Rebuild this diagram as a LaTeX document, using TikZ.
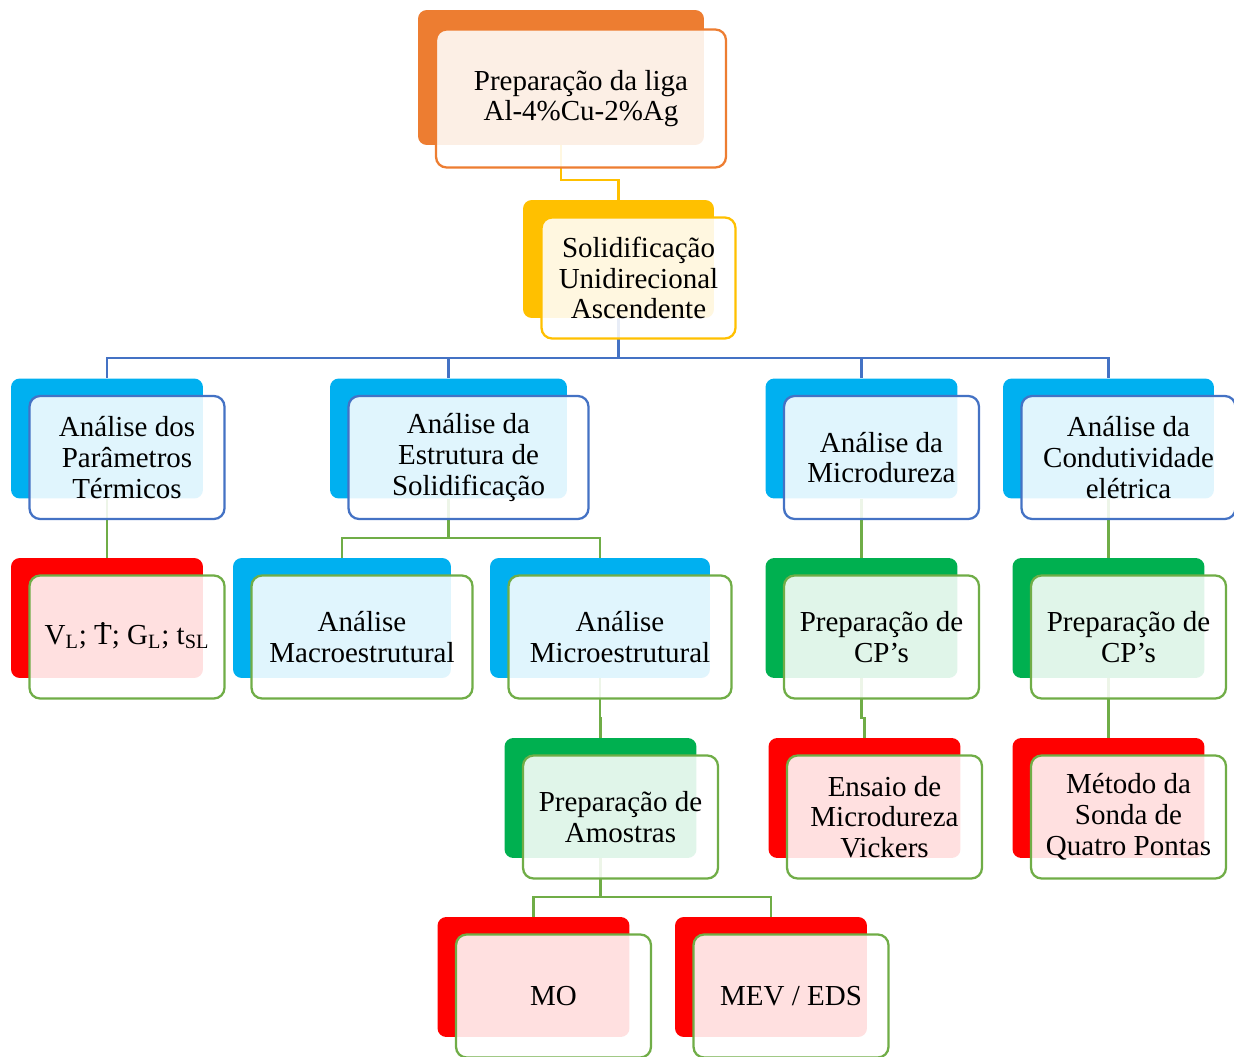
\documentclass[tikz,border=0pt]{standalone}
\usepackage{fontspec}
\setmainfont{Liberation Serif}
\usepackage{tikz}
\usetikzlibrary{positioning}

\definecolor{orangeA}{HTML}{ED7D31}
\definecolor{goldA}{HTML}{FFC000}
\definecolor{cyanA}{HTML}{00B0F0}
\definecolor{blueA}{HTML}{4472C4}
\definecolor{greenA}{HTML}{00B050}
\definecolor{greenB}{HTML}{70AD47}
\definecolor{redA}{HTML}{FF0000}

\newcommand{\Tdot}{\ooalign{T\cr\hidewidth\raisebox{0.66em}{.}\hidewidth}}

\begin{document}
\begin{tikzpicture}[x=0.02cm, y=-0.02cm,
  font=\fontsize{16.5}{17.5}\selectfont,
  back/.style={fill=#1, rounded corners=5pt, minimum width=3.84cm, minimum height=2.4cm, inner sep=0pt},
  front/.style={draw=#1, line width=1.3pt, rounded corners=6pt, fill=white, fill opacity=0.88, text opacity=1,
    align=center, minimum width=3.9cm, minimum height=2.46cm, inner sep=0pt},
  link/.style={draw=#1, line width=1.3pt}]
\useasboundingbox (0,0) rectangle (1234,1057);
% back cards
\node[back=orangeA, minimum width=5.72cm, minimum height=2.7cm] (prep-b) at (561,77.5) {};
\node[back=goldA, minimum width=3.82cm, minimum height=2.36cm] (solid-b) at (618.5,259) {};
\node[back=cyanA] (termicos-b) at (107,438.5) {};
\node[back=cyanA, minimum width=4.74cm] (estrutura-b) at (448.5,438.5) {};
\node[back=cyanA] (microdureza-b) at (861.5,438.5) {};
\node[back=cyanA, minimum width=4.22cm] (condutividade-b) at (1108.5,438.5) {};
\node[back=redA] (param-b) at (107,618) {};
\node[back=cyanA, minimum width=4.36cm] (macro-b) at (342,618) {};
\node[back=cyanA, minimum width=4.4cm] (micro-b) at (600,618) {};
\node[back=greenA] (cpa-b) at (861.5,618) {};
\node[back=greenA] (cpb-b) at (1108.5,618) {};
\node[back=greenA] (amostras-b) at (600.5,798) {};
\node[back=redA] (ensaio-b) at (864.5,798) {};
\node[back=redA] (sonda-b) at (1108.5,798) {};
\node[back=redA] (mo-b) at (533.5,977) {};
\node[back=redA] (mev-b) at (771,977) {};
% connectors
\draw[link=goldA] (prep-b.south) |- ([yshift=0.4cm]solid-b.north) -- (solid-b.north);
\foreach \n in {termicos,estrutura,microdureza,condutividade}
  \draw[link=blueA] (solid-b.south) |- ([yshift=0.4cm]\n-b.north) -- (\n-b.north);
\foreach \p/\c in {termicos/param,estrutura/macro,estrutura/micro,microdureza/cpa,condutividade/cpb,
    micro/amostras,cpa/ensaio,cpb/sonda,amostras/mo,amostras/mev}
  \draw[link=greenB] (\p-b.south) |- ([yshift=0.4cm]\c-b.north) -- (\c-b.north);
% front cards
\node[front=orangeA, minimum width=5.8cm, minimum height=2.76cm] (prep) at ([shift={(20,21)}]prep-b) {Preparação da liga\\Al-4\%Cu-2\%Ag};
\node[front=goldA, minimum width=3.88cm, minimum height=2.42cm] (solid) at ([shift={(20,19)}]solid-b) {Solidificação\\Unidirecional\\Ascendente};
\node[front=blueA] (termicos) at ([shift={(20,19)}]termicos-b) {Análise dos\\Parâmetros\\Térmicos};
\node[front=blueA, minimum width=4.8cm] (estrutura) at ([shift={(20,19)}]estrutura-b) {Análise da\\Estrutura de\\Solidificação};
\node[front=blueA] (microdureza) at ([shift={(20,19)}]microdureza-b) {Análise da\\Microdureza};
\node[front=blueA, minimum width=4.28cm] (condutividade) at ([shift={(20,19)}]condutividade-b) {Análise da\\Condutividade\\elétrica};
\node[front=greenB] (param) at ([shift={(20,19)}]param-b) {V\textsubscript{L}; \Tdot; G\textsubscript{L}; t\textsubscript{SL}};
\node[front=greenB, minimum width=4.42cm] (macro) at ([shift={(20,19)}]macro-b) {Análise\\Macroestrutural};
\node[front=greenB, minimum width=4.46cm] (micro) at ([shift={(20,19)}]micro-b) {Análise\\Microestrutural};
\node[front=greenB] (cpa) at ([shift={(20,19)}]cpa-b) {Preparação de\\CP’s};
\node[front=greenB] (cpb) at ([shift={(20,19)}]cpb-b) {Preparação de\\CP’s};
\node[front=greenB] (amostras) at ([shift={(20,19)}]amostras-b) {Preparação de\\Amostras};
\node[front=greenB] (ensaio) at ([shift={(20,19)}]ensaio-b) {Ensaio de\\Microdureza\\Vickers};
\node[front=greenB] (sonda) at ([shift={(20,19)}]sonda-b) {Método da\\Sonda de\\Quatro Pontas};
\node[front=greenB] (mo) at ([shift={(20,19)}]mo-b) {MO};
\node[front=greenB] (mev) at ([shift={(20,19)}]mev-b) {MEV / EDS};
\end{tikzpicture}
\end{document}
